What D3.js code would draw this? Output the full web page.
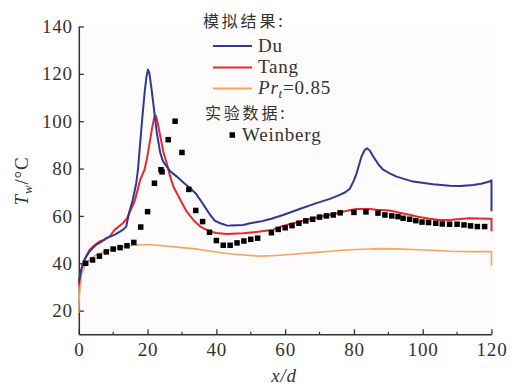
<!DOCTYPE html>
<html><head><meta charset="utf-8">
<script src="https://cdn.jsdelivr.net/npm/d3@7"></script>
<style>
html,body{margin:0;padding:0;background:#fff;}
svg{display:block;}
</style></head>
<body>
<svg id="chart" width="513" height="387"></svg>
<script>
// ---------- data ----------
const xTicks = [0, 20, 40, 60, 80, 100, 120];
const xMinorTicks = [10, 30, 50, 70, 90, 110];
const yTicks = [20, 40, 60, 80, 100, 120, 140];

const duX = [0,0.5,1.2,2,3.1,5,6.5,8,10.4,12.8,13.8,14.6,15.7,16.7,17.2,17.8,18.5,19.2,19.7,20.1,20.5,21.2,22.7,23.7,24.5,26.5,28.5,30.5,32.4,34,35.3,36.8,38.2,39.5,41.1,43,44,47.8,49.8,52.7,56,59.4,64,69.1,73,75.9,77.5,78.8,80,80.8,82.2,83.1,83.8,84.6,85.6,87,88.5,90.4,92.4,97.2,103,107.8,111,114.6,117,119.4,120,120];
const duY = [32,36,40,42.5,44.9,47.8,49,50.6,52,54.1,55.5,61.2,66.8,73.8,79.5,90,102,113,119,121.8,120.5,113,95,86.5,83,79,76.6,74,71.7,69.5,66.8,63.5,60.4,58,56.9,56,55.9,56.2,56.9,57.6,58.8,60.4,62.8,65.4,67.2,68.9,70,71.5,75,78.1,85.1,87.8,88.6,87.6,85.1,82,79.5,78,76.6,74.5,73.4,72.7,72.6,73.1,73.6,74.5,75,62];

const tangX = [0,0.7,1.5,3.1,4.5,6,7.5,9,10.4,12.8,14,14.7,16.3,17.8,19.1,19.8,20.5,21.3,22,22.4,23,23.7,24.6,25.6,26.5,27.5,29.5,31.4,33.3,35.3,38.2,40,43,47.8,52.7,56.5,59.4,64,69.1,73,75.9,78,80.7,84.6,86.6,90.4,93.3,96.2,99,102,105,107.8,110,113.6,116,119.4,120,120];
const tangY = [31,37.2,41,45.6,47.5,49.2,50,51.3,54.1,56.9,59,61.2,66.5,75,79.5,84,90,97,102,102.3,99,93.5,87,82,77,72.4,66.8,61.8,58.3,55.5,53.4,52.8,52.4,52.7,53.4,54.2,55.8,57.5,59.3,60.5,61.4,62.2,62.9,62.9,62.6,62.3,61.3,60.5,59.5,58.8,58.3,58.3,58.6,59,58.9,58.8,58.8,53.5];

const prX = [0,0.1,0.4,0.8,1.5,2.2,3.5,5,7,9,11,13.8,16,18.6,21,25.4,30,33.3,38,43,47.8,52.7,56,59.4,64,69.1,74,78.8,84.6,87.5,92,97,104,108,113.6,119.4,120,120];
const prY = [19,25,30,35.5,38,40,42,43.5,44.7,45.6,46.3,47.2,47.6,47.8,47.8,47.3,46.6,46.2,45.2,44.1,43.5,43,43.2,43.5,44,44.6,45.2,45.7,46,46.2,46.1,45.8,45.4,45.1,44.9,44.9,44.9,39];

const expX = [2,4,6,8,10,12,14,16,18,20,22,23.9,24.2,26,28,30,32,34,36,38,40,42,44,46,48,50,52,56,58,60,62,64,66,68,70,72,74,76,80,83.5,87,89,91,92.8,94.3,96.2,98,99.8,101.7,103.8,105.7,107.8,110,112,113.9,115.9,118];
const expY = [40,41.4,43,44.8,46,46.6,47.4,48.8,55.3,61.8,73.8,79.5,78.6,92.2,100,86.8,71.2,62.3,57.6,53.1,49.6,47.6,47.6,48.6,49.4,50.1,50.6,52.9,54.3,55,55.9,56.9,57.9,58.6,59.5,60,60.4,61.3,61.5,61.7,61.2,60.4,60,59.7,59,58.6,58,57.4,57.2,56.9,56.6,56.5,56.5,56.2,55.8,55.5,55.5];

const seriesNames = ["Du", "Tang", "Pr_t=0.85"];
const colors = {du: "#2e3a92", tang: "#e8282b", pr: "#f7a55a"};

// ---------- chart ----------
const svg = d3.select("#chart");
const serif = "'Liberation Serif','Times New Roman',serif";
const cjk = "'Noto Sans CJK SC','Noto Sans CJK JP',sans-serif";
const fs = 19, ls = 0.8;

const x = d3.scaleLinear().domain([0, 120]).range([78.8, 491.5]);
const y = d3.scaleLinear().domain([10, 140]).range([334.3, 26.5]);

svg.append("rect").attr("x", 79).attr("y", 25).attr("width", 416).attr("height", 309.3).attr("fill", "#fdfbfb");

const axisColor = "#333";

const gx = svg.append("g").attr("transform", `translate(0,${y(10)})`)
  .call(d3.axisBottom(x).tickValues(xTicks).tickSizeInner(-5).tickSizeOuter(0).tickPadding(8).tickFormat(d3.format("d")));
gx.selectAll(".tick line").attr("stroke", axisColor).attr("stroke-width", 1.3);
gx.select(".domain").attr("stroke", axisColor).attr("stroke-width", 1.5);
gx.selectAll(".tick text").attr("font-family", serif).attr("font-size", fs).attr("letter-spacing", ls).attr("fill", "#333");
gx.selectAll(".minor").data(xMinorTicks).enter().append("line")
  .attr("x1", d => x(d)).attr("x2", d => x(d)).attr("y1", 0).attr("y2", -2.5)
  .attr("stroke", axisColor).attr("stroke-width", 1.2);

const gy = svg.append("g").attr("transform", `translate(${x(0)},0)`)
  .call(d3.axisLeft(y).tickValues(yTicks).tickSizeInner(-5).tickSizeOuter(0).tickPadding(6).tickFormat(d3.format("d")));
gy.selectAll(".tick line").attr("stroke", axisColor).attr("stroke-width", 1.3);
gy.select(".domain").attr("stroke", axisColor).attr("stroke-width", 1.5);
gy.selectAll(".tick text").attr("font-family", serif).attr("font-size", fs).attr("letter-spacing", ls).attr("fill", "#333");

// lines
const line = d3.line().x(d => x(d[0])).y(d => y(d[1])).curve(d3.curveLinear);
function zip(a, b) { return a.map((v, i) => [v, b[i]]); }

svg.append("path").datum(zip(prX, prY)).attr("d", line).attr("fill", "none")
  .attr("stroke", colors.pr).attr("stroke-width", 1.6).attr("stroke-linejoin", "round");
svg.append("path").datum(zip(tangX, tangY)).attr("d", line).attr("fill", "none")
  .attr("stroke", colors.tang).attr("stroke-width", 2).attr("stroke-linejoin", "round");
svg.append("path").datum(zip(duX, duY)).attr("d", line).attr("fill", "none")
  .attr("stroke", colors.du).attr("stroke-width", 2).attr("stroke-linejoin", "round");

const sq = 5.5;
svg.append("g").selectAll("rect").data(zip(expX, expY)).enter().append("rect")
  .attr("x", d => x(d[0]) - sq / 2).attr("y", d => y(d[1]) - sq / 2)
  .attr("width", sq).attr("height", sq).attr("fill", "#000");

// axis titles
const yl = svg.append("text").attr("transform", "translate(28,181) rotate(-90)")
  .attr("text-anchor", "middle").attr("font-family", serif).attr("font-size", fs).attr("letter-spacing", ls).attr("fill", "#333");
yl.append("tspan").attr("font-style", "italic").text("T");
yl.append("tspan").attr("font-style", "italic").attr("font-size", 13).attr("dy", 4).text("w");
yl.append("tspan").attr("dy", -4).text("/°C");

svg.append("text").attr("x", 284).attr("y", 382).attr("text-anchor", "middle")
  .attr("font-family", serif).attr("font-size", fs).attr("letter-spacing", ls).attr("font-style", "italic").attr("fill", "#333").text("x/d");

// legend
const lg = svg.append("g");
lg.append("text").attr("x", 203).attr("y", 27).attr("font-family", cjk).attr("font-size", 16)
  .attr("letter-spacing", 2.8).attr("fill", "#333").text("模拟结果:");
const rows = [
  {c: colors.du, y: 46, name: seriesNames[0]},
  {c: colors.tang, y: 67.5, name: seriesNames[1]},
  {c: colors.pr, y: 88.5, name: seriesNames[2]}
];
rows.forEach(r => {
  lg.append("line").attr("x1", 213).attr("x2", 252).attr("y1", r.y).attr("y2", r.y)
    .attr("stroke", r.c).attr("stroke-width", 2);
  const t = lg.append("text").attr("x", 258).attr("y", r.y + 5.5).attr("font-family", serif)
    .attr("font-size", fs).attr("letter-spacing", ls).attr("fill", "#333");
  if (r.name.startsWith("Pr_t")) {
    t.append("tspan").attr("font-style", "italic").text("Pr");
    t.append("tspan").attr("font-style", "italic").attr("font-size", 13).attr("dy", 4).text("t");
    t.append("tspan").attr("dy", -4).text("=0.85");
  } else {
    t.text(r.name);
  }
});
lg.append("text").attr("x", 205).attr("y", 118.5).attr("font-family", cjk).attr("font-size", 16)
  .attr("letter-spacing", 2.8).attr("fill", "#333").text("实验数据:");
lg.append("rect").attr("x", 232.3 - sq / 2).attr("y", 135 - sq / 2).attr("width", sq).attr("height", sq).attr("fill", "#000");
lg.append("text").attr("x", 242).attr("y", 140.5).attr("font-family", serif).attr("font-size", fs)
  .attr("letter-spacing", ls).attr("fill", "#333").text("Weinberg");
</script>
</body></html>
